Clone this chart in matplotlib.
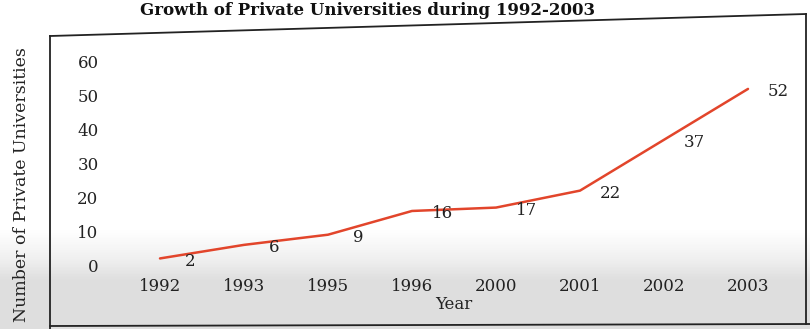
import matplotlib.pyplot as plt
import numpy as np
from matplotlib.lines import Line2D

# data
years = ["1992", "1993", "1995", "1996", "2000", "2001", "2002", "2003"]
counts = [2, 6, 9, 16, 17, 22, 37, 52]
yticks = [0, 10, 20, 30, 40, 50, 60]

plt.rcParams["font.family"] = ["DejaVu Serif"]

W, H = 810, 329
fig = plt.figure(figsize=(W / 100, H / 100), dpi=100)
fig.patch.set_facecolor("white")

# paper tone: lower part of the scan is greyish
bg = fig.add_axes([0, 0, 1, 1], zorder=-10)
grad = np.ones((H, 1))
rows = np.arange(H)
grad[:, 0] = np.clip((rows - 230) / 50, 0, 1)
bg.imshow(grad, cmap="Greys", vmin=0, vmax=4.5, aspect="auto",
          extent=[0, W, H, 0], interpolation="bilinear")
bg.set_xlim(0, W)
bg.set_ylim(H, 0)
bg.axis("off")

# outer frame (slightly skewed top edge like the scan)
frame_kw = dict(color="#222222", linewidth=1.3, transform=bg.transData)
bg.add_line(Line2D([50, 806], [36, 14], **frame_kw))
bg.add_line(Line2D([50, 50], [36, 329], **frame_kw))
bg.add_line(Line2D([50, 810], [326, 324], **frame_kw))
bg.add_line(Line2D([806, 806], [14, 324], **frame_kw))

# title at the top edge
fig.text(140 / W, 1.0 - 2 / H, "Growth of Private Universities during 1992-2003",
         ha="left", va="top", fontsize=12, fontweight="bold", color="#111111")

ax = fig.add_axes([118 / W, 1 - 272 / H, 672 / W, 217 / H])
ax.patch.set_alpha(0)
x = np.arange(len(years))
ax.plot(x, counts, color="#e2452b", linewidth=1.8, solid_capstyle="round")

for xi, v in zip(x, counts):
    ax.annotate(str(v), (xi, v), xytext=(22, -2), textcoords="offset points",
                ha="center", va="center", fontsize=12, color="#222222")

ax.set_xlim(-0.5, 7.5)
ax.set_ylim(-2, 62)
ax.set_xticks(x)
ax.set_xticklabels(years)
ax.set_yticks(yticks)
ax.tick_params(length=0, labelsize=12, colors="#222222")
ax.tick_params(axis="x", pad=4)
ax.tick_params(axis="y", pad=14)
for s in ax.spines.values():
    s.set_visible(False)
ax.set_xlabel("Year", fontsize=12, color="#222222", labelpad=1)

fig.text(22 / W, 1 - 185 / H, "Number of Private Universities", rotation=90,
         ha="center", va="center", fontsize=12.5, color="#222222")

fig.savefig("out.png", dpi=100)
